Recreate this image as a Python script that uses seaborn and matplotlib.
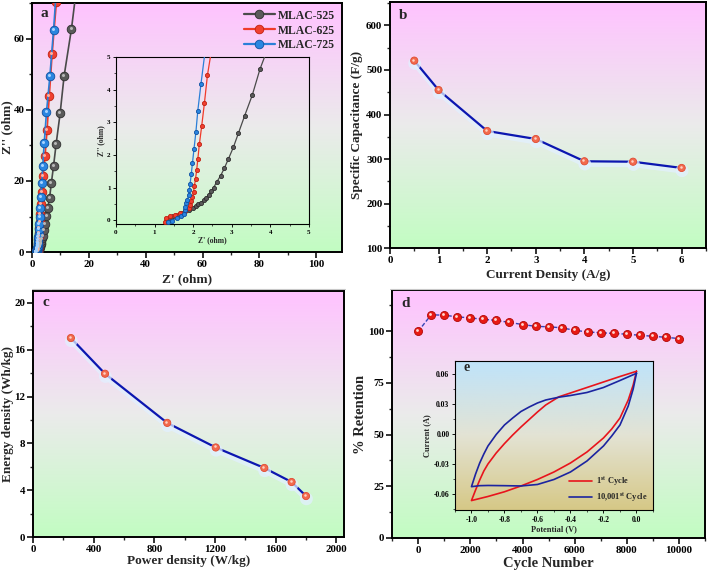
import numpy as np
import matplotlib
matplotlib.use('Agg')
import matplotlib.pyplot as plt
import seaborn as sns
import matplotlib.patheffects as pe
from matplotlib.colors import LinearSegmentedColormap
from matplotlib.ticker import MultipleLocator, FormatStrFormatter
from matplotlib.transforms import offset_copy
from matplotlib.lines import Line2D

# a: Nyquist (Z', Z'') for the three carbons
zre_525 = [1.30, 1.38, 1.48, 1.58, 1.68, 1.78, 1.88, 1.99, 2.06, 2.13, 2.20, 2.27, 2.34, 2.40, 2.47, 2.53,
           2.61, 2.71, 2.81, 2.91, 3.04, 3.17, 3.33, 3.53, 3.73, 4.2, 4.6, 5.1, 5.6, 6.2, 6.8, 7.6, 8.5,
           9.9, 11.3, 13.9, 16.4]
zim_525 = [-0.02, 0.06, 0.12, 0.17, 0.22, 0.27, 0.32, 0.38, 0.43, 0.48, 0.54, 0.61, 0.69, 0.78, 0.89, 1.00,
           1.17, 1.36, 1.60, 1.87, 2.23, 2.66, 3.19, 3.83, 4.63, 6.1, 8.0, 10.1, 12.5, 15.3, 19.3, 24.3, 30.4,
           39.0, 49.5, 62.8, 79.0]
zre_625 = [1.26, 1.30, 1.41, 1.53, 1.66, 1.79, 1.88, 1.91, 1.95, 1.98, 2.01, 2.03, 2.06, 2.09, 2.12, 2.16,
           2.22, 2.29, 2.37, 2.5, 2.6, 2.7, 2.9, 3.1, 3.4, 3.9, 4.6, 5.3, 6.1, 7.1, 8.6]
zim_625 = [-0.05, 0.05, 0.12, 0.17, 0.21, 0.27, 0.36, 0.47, 0.58, 0.72, 0.87, 1.04, 1.26, 1.53, 1.87, 2.33,
           2.88, 3.58, 4.45, 5.4, 6.8, 8.6, 10.8, 13.5, 17.0, 21.3, 27.0, 34.2, 44.0, 55.8, 70.3]
zre_725 = [1.34, 1.45, 1.58, 1.68, 1.75, 1.78, 1.80, 1.82, 1.85, 1.88, 1.90, 1.92, 1.95, 1.98, 2.02, 2.07,
           2.12, 2.20, 2.3, 2.4, 2.5, 2.7, 2.9, 3.1, 3.5, 3.8, 4.3, 5.1, 6.3, 7.6, 9.0]
zim_725 = [-0.07, -0.02, 0.05, 0.12, 0.20, 0.30, 0.41, 0.51, 0.63, 0.77, 0.92, 1.12, 1.40, 1.74, 2.17, 2.70,
           3.36, 4.16, 5.1, 6.4, 8.0, 10.0, 12.5, 15.6, 19.5, 24.3, 30.6, 39.3, 49.5, 62.5, 78.8]

# b: rate capability
current = [0.5, 1, 2, 3, 4, 5, 6]
capacitance = [521, 455, 363, 345, 295, 294, 280]

# c: Ragone
power = [250, 475, 885, 1205, 1525, 1705, 1800]
energy = [17.0, 13.95, 9.75, 7.65, 5.9, 4.7, 3.5]

# d: cycling
cycles = [0, 500, 1000, 1500, 2000, 2500, 3000, 3500, 4000, 4500, 5000, 5500, 6000, 6500, 7000,
          7500, 8000, 8500, 9000, 9500, 10000]
retention = [100, 108, 107.8, 107, 106.5, 105.8, 105.3, 104.3, 103.3, 102.4, 102.2, 101.7, 100.5,
             99.7, 99.3, 99.0, 98.6, 98.1, 97.6, 97.1, 96.5]

# e: CV loops, 1st and 10,001st cycle (anodic branch right->left, then cathodic back)
cv1_v = [0.0, -0.1, -0.2, -0.3, -0.4, -0.47, -0.55, -0.6, -0.65, -0.7, -0.75, -0.8, -0.85, -0.9, -0.925,
         -0.95, -0.975, -1.0,
         -0.9, -0.8, -0.7, -0.6, -0.5, -0.4, -0.3, -0.2, -0.15, -0.1, -0.05, -0.02, 0.0]
cv1_i = [0.0627, 0.0575, 0.052, 0.0465, 0.041, 0.0372, 0.029, 0.022, 0.0145, 0.007, -0.001, -0.0096, -0.019,
         -0.030, -0.037, -0.046, -0.056, -0.0666,
         -0.0625, -0.0578, -0.052, -0.0455, -0.038, -0.029, -0.018, -0.004, 0.005, 0.016, 0.034, 0.049, 0.0627]
cv2_v = [0.0, -0.1, -0.2, -0.3, -0.4, -0.47, -0.55, -0.6, -0.65, -0.7, -0.75, -0.8, -0.85, -0.9, -0.925,
         -0.95, -0.975, -1.0,
         -0.95, -0.9, -0.8, -0.7, -0.6, -0.5, -0.4, -0.3, -0.2, -0.15, -0.1, -0.05, -0.02, 0.0]
cv2_i = [0.0607, 0.0535, 0.0465, 0.0415, 0.0385, 0.0368, 0.034, 0.031, 0.027, 0.0225, 0.016, 0.009, -0.0005,
         -0.012, -0.020, -0.029, -0.040, -0.0527,
         -0.0517, -0.0515, -0.0517, -0.052, -0.0505, -0.0455, -0.038, -0.027, -0.012, -0.002, 0.009, 0.028,
         0.045, 0.0607]

sns.set_theme(style='ticks')
plt.rcParams['font.family'] = ['Liberation Serif', 'DejaVu Serif']
plt.rcParams['font.weight'] = 'bold'
plt.rcParams['axes.labelweight'] = 'bold'
plt.rcParams['mathtext.fontset'] = 'stix'
plt.rcParams['axes.unicode_minus'] = False
plt.rcParams['xtick.direction'] = 'out'
plt.rcParams['ytick.direction'] = 'out'

fig = plt.figure(figsize=(7.09, 5.73), dpi=100)

bg = LinearSegmentedColormap.from_list('bg', [(0, '#c2fdc2'), (0.5, '#ebebeb'), (1, '#ffc2ff')])
bg_e = LinearSegmentedColormap.from_list('bge', [(0, '#d6c886'), (0.5, '#e3e3d4'), (1, '#bfe3fa')])


def paint(ax, cmap):
    grad = np.linspace(1, 0, 256).reshape(-1, 1)
    ax.imshow(grad, extent=[0, 1, 0, 1], transform=ax.transAxes, aspect='auto', cmap=cmap, zorder=0)


def frame(ax, lw=1.4, size=7.8, major=4, minor=2.2, pad=1.5):
    for s in ax.spines.values():
        s.set_linewidth(lw)
        s.set_color('black')
    ax.tick_params(which='major', length=major, width=lw * 0.8, labelsize=size, colors='black', pad=pad)
    ax.tick_params(which='minor', length=minor, width=lw * 0.7)


def shine(ax, x, y, color, ms, dx=-0.7, dy=0.7):
    tr = offset_copy(ax.transData, fig=fig, x=dx, y=dy, units='points')
    ax.plot(x, y, 'o', markersize=ms, color=color, markeredgecolor='none', transform=tr, zorder=6)


def series(ax, x, y, line, face, edge, ms, lw=1.2, hi=None, **kw):
    sns.lineplot(x=x, y=y, sort=False, estimator=None, ax=ax, color=line, linewidth=lw, marker='o',
                 markersize=ms, markerfacecolor=face, markeredgecolor=edge, markeredgewidth=0.6,
                 legend=False, zorder=5, **kw)
    if hi is not None:
        shine(ax, x, y, hi, ms * 0.35)


glow = [pe.SimpleLineShadow(offset=(0.3, -2.0), shadow_color='#e2f0ff', alpha=0.75, linewidth=4), pe.Normal()]

# ---------- a ----------
ax_a = fig.add_axes([0.0451, 0.560, 0.437, 0.4346])
paint(ax_a, bg)
nyq = [(zre_525, zim_525, '#4a4a4a', '#5a5a5a', '#2e2e2e', '#b8b8b8', 'MLAC-525'),
       (zre_625, zim_625, '#f03a2a', '#f04030', '#c02010', '#ffb0a0', 'MLAC-625'),
       (zre_725, zim_725, '#2a7fd8', '#2a86e0', '#1050a0', '#a8d4ff', 'MLAC-725')]
for xr, yi, lc, fc, ec, hc, lab in nyq:
    series(ax_a, xr, yi, lc, fc, ec, 6.2, lw=1.2, hi=hc)
ax_a.set_xlim(0, 109)
ax_a.set_ylim(0, 70)
ax_a.xaxis.set_major_locator(MultipleLocator(20))
ax_a.xaxis.set_minor_locator(MultipleLocator(10))
ax_a.yaxis.set_major_locator(MultipleLocator(20))
ax_a.yaxis.set_minor_locator(MultipleLocator(10))
ax_a.set_xlabel("Z' (ohm)", fontsize=9.5, labelpad=3)
ax_a.set_ylabel("Z'' (ohm)", fontsize=9.5, labelpad=0)
frame(ax_a)
ax_a.text(0.028, 0.958, 'a', transform=ax_a.transAxes, fontsize=11, fontweight='bold', va='center')
handles = [Line2D([], [], color=lc, lw=1.6, marker='o', markersize=6.2, markerfacecolor=fc,
                  markeredgecolor=ec, markeredgewidth=0.6) for _, _, lc, fc, ec, _, _ in nyq]
ax_a.legend(handles, [n[6] for n in nyq], loc='upper right', frameon=False, fontsize=8.5,
            handlelength=2.6, handletextpad=0.3, labelspacing=0.25, borderaxespad=0.15)

# inset of a
ax_ai = fig.add_axes([0.1636, 0.609, 0.2722, 0.2914])
ax_ai.patch.set_alpha(0)
for xr, yi, lc, fc, ec, hc, lab in nyq:
    series(ax_ai, xr, yi, lc, fc, ec, 3.0, lw=0.9)
ax_ai.set_xlim(0, 5)
ax_ai.set_ylim(-0.12, 5)
ax_ai.xaxis.set_major_locator(MultipleLocator(1))
ax_ai.xaxis.set_minor_locator(MultipleLocator(0.5))
ax_ai.yaxis.set_major_locator(MultipleLocator(1))
ax_ai.yaxis.set_minor_locator(MultipleLocator(0.5))
frame(ax_ai, lw=0.8, size=5, major=2.5, minor=1.5)
ax_ai.set_xlabel("Z' (ohm)", fontsize=5.5, labelpad=1)
ax_ai.set_ylabel("Z'' (ohm)", fontsize=5.5, labelpad=1)

# ---------- b ----------
ax_b = fig.add_axes([0.550, 0.567, 0.4457, 0.429])
paint(ax_b, bg)
series(ax_b, current, capacitance, '#0c16b0', '#f26a4e', '#e04a30', 5.2, lw=1.6, hi='#ffd2c4',
       path_effects=glow)
ax_b.set_xlim(0, 6.5)
ax_b.set_ylim(100, 652)
ax_b.xaxis.set_major_locator(MultipleLocator(1))
ax_b.xaxis.set_minor_locator(MultipleLocator(0.5))
ax_b.yaxis.set_major_locator(MultipleLocator(100))
ax_b.yaxis.set_minor_locator(MultipleLocator(50))
ax_b.set_xlabel('Current Density (A/g)', fontsize=9.5, labelpad=3)
ax_b.set_ylabel('Specific Capacitance (F/g)', fontsize=9.5, labelpad=2)
frame(ax_b)
ax_b.text(0.028, 0.947, 'b', transform=ax_b.transAxes, fontsize=11, fontweight='bold', va='center')

# ---------- c ----------
ax_c = fig.add_axes([0.0465, 0.0628, 0.4386, 0.429])
paint(ax_c, bg)
series(ax_c, power, energy, '#0c16b0', '#f26a4e', '#e04a30', 5.2, lw=1.6, hi='#ffd2c4',
       path_effects=glow)
ax_c.set_xlim(0, 2050)
ax_c.set_ylim(0, 21)
ax_c.xaxis.set_major_locator(MultipleLocator(400))
ax_c.xaxis.set_minor_locator(MultipleLocator(200))
ax_c.yaxis.set_major_locator(MultipleLocator(4))
ax_c.yaxis.set_minor_locator(MultipleLocator(2))
ax_c.set_xlabel('Power density (W/kg)', fontsize=9.5, labelpad=1)
ax_c.set_ylabel('Energy density (Wh/kg)', fontsize=9.5, labelpad=0)
frame(ax_c)
ax_c.text(0.031, 0.956, 'c', transform=ax_c.transAxes, fontsize=11, fontweight='bold', va='center')

# ---------- d ----------
ax_d = fig.add_axes([0.553, 0.0611, 0.4415, 0.4328])
paint(ax_d, bg)
series(ax_d, cycles, retention, '#3444b4', '#e81a14', '#b00808', 5.8, lw=1.0, hi='#ffd8d0',
       dashes=(3, 1.5))
ax_d.set_xlim(-1000, 11000)
ax_d.set_ylim(0, 120)
ax_d.set_yticks([0, 25, 50, 75, 100])
ax_d.yaxis.set_minor_locator(MultipleLocator(12.5))
ax_d.xaxis.set_major_locator(MultipleLocator(2000))
ax_d.xaxis.set_minor_locator(MultipleLocator(1000))
ax_d.set_xlabel('Cycle Number', fontsize=10.5, labelpad=2)
ax_d.set_ylabel('% Retention', fontsize=10.5, labelpad=1)
frame(ax_d)
ax_d.text(0.031, 0.946, 'd', transform=ax_d.transAxes, fontsize=11, fontweight='bold', va='center')

# inset e
ax_e = fig.add_axes([0.6417, 0.110, 0.2793, 0.260])
paint(ax_e, bg_e)
sns.lineplot(x=cv1_v, y=cv1_i, sort=False, estimator=None, ax=ax_e, color='#e8141c', linewidth=1.2,
             legend=False, zorder=4)
sns.lineplot(x=cv2_v, y=cv2_i, sort=False, estimator=None, ax=ax_e, color='#1c24a0', linewidth=1.2,
             legend=False, zorder=4)
ax_e.set_xlim(-1.1, 0.1)
ax_e.set_ylim(-0.076, 0.073)
ax_e.xaxis.set_major_locator(MultipleLocator(0.2))
ax_e.xaxis.set_minor_locator(MultipleLocator(0.1))
ax_e.set_yticks([-0.06, -0.03, 0.0, 0.03, 0.06])
ax_e.yaxis.set_minor_locator(MultipleLocator(0.015))
ax_e.xaxis.set_major_formatter(FormatStrFormatter('%.1f'))
ax_e.yaxis.set_major_formatter(FormatStrFormatter('%.2f'))
frame(ax_e, lw=0.8, size=5.5, major=2.5, minor=1.5)
ax_e.set_xlabel('Potential (V)', fontsize=6, labelpad=1)
ax_e.set_ylabel('Current (A)', fontsize=6, labelpad=2)
ax_e.text(0.042, 0.955, 'e', transform=ax_e.transAxes, fontsize=10, fontweight='bold', va='center')
h_e = [Line2D([], [], color='#e8141c', lw=1.2), Line2D([], [], color='#1c24a0', lw=1.2)]
ax_e.legend(h_e, [r'1$^{\mathbf{st}}$ Cycle', r'10,001$^{\mathbf{st}}$ Cycle'], loc='lower right',
            frameon=False, fontsize=6, handlelength=2.8, handletextpad=0.4, labelspacing=0.3,
            borderaxespad=0.3)

# thin grey separator under the top row
fig.add_artist(Line2D([0.045, 0.487], [0.4956, 0.4956], color='#c8c8c8', lw=0.8))
fig.add_artist(Line2D([0.550, 0.995], [0.4956, 0.4956], color='#c8c8c8', lw=0.8))

fig.savefig('out.png', dpi=100)
